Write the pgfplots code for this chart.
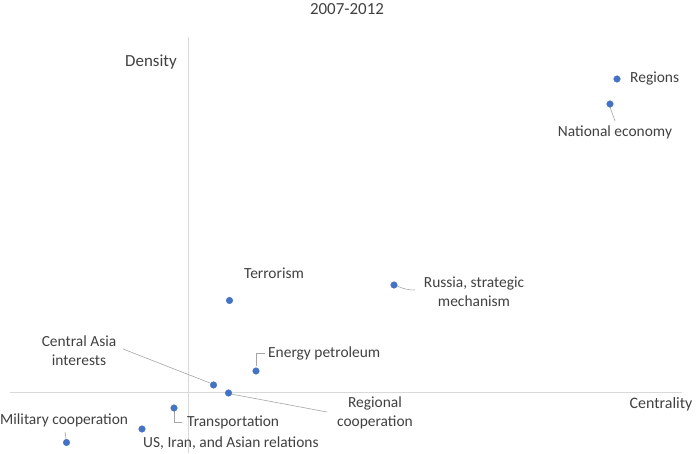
\documentclass[border=0pt]{standalone}
\usepackage{pgfplots}
\pgfplotsset{compat=1.18}
\usepackage{fontspec}
\setmainfont{Carlito}
\definecolor{dotblue}{HTML}{4472C4}
\definecolor{txt}{HTML}{404040}
\definecolor{axgray}{HTML}{D9D9D9}
\definecolor{leader}{HTML}{A6A6A6}
\tikzset{lbl/.style={font=\fontsize{15.5}{19.5}\selectfont, text=txt, inner sep=0pt},
         big/.style={font=\fontsize{17}{20}\selectfont, text=txt, inner sep=0pt}}
\begin{document}
\begin{tikzpicture}
\begin{axis}[
  x=1bp, y=1bp,
  xmin=-178, xmax=494, ymin=-61, ymax=355,
  axis lines=middle,
  axis line style={draw=axgray, line width=0.8bp, -},
  ticks=none,
  clip=false,
]
\addplot[only marks, mark=*, mark size=3.3bp, color=dotblue, mark options={draw=dotblue, fill=dotblue}] coordinates {
  (429,313)   % Regions
  (422,288)   % National economy
  (206,107)   % Russia, strategic mechanism
  (41.5,91.5) % Terrorism
  (68,21)     % Energy petroleum
  (25.5,7)    % Central Asia interests
  (40.5,-1)   % Regional cooperation
  (-14,-16)   % Transportation
  (-46,-37)   % US, Iran, and Asian relations
  (-121.5,-50.5) % Military cooperation
};
% leader lines
\draw[leader, line width=0.6bp] (axis cs:422,285) -- (axis cs:427,271);
\draw[leader, line width=0.6bp] (axis cs:209,106) .. controls (axis cs:216,103) and (axis cs:220,102) .. (axis cs:227,102);
\draw[leader, line width=0.6bp] (axis cs:68,26) -- (axis cs:68,39) -- (axis cs:77,39);
\draw[leader, line width=0.6bp] (axis cs:-65,43) -- (axis cs:22,9);
\draw[leader, line width=0.6bp] (axis cs:43,-2) -- (axis cs:139,-20);
\draw[leader, line width=0.6bp] (axis cs:-14,-19) -- (axis cs:-14,-30) -- (axis cs:-6,-30);
\draw[leader, line width=0.6bp] (axis cs:-122,-47) -- (axis cs:-123,-40);
% labels
\node[big] at (axis cs:159,382.5) {2007-2012};
\node[big] at (axis cs:-37,330) {Density};
\node[lbl, font=\fontsize{16}{20}\selectfont] at (axis cs:473,-12) {Centrality};
\node[lbl, anchor=west] at (axis cs:442,313) {Regions};
\node[lbl] at (axis cs:427,260) {National economy};
\node[lbl, align=center] at (axis cs:286,100) {Russia, strategic\\mechanism};
\node[lbl] at (axis cs:86,119) {Terrorism};
\node[lbl, anchor=west] at (axis cs:80,39) {Energy petroleum};
\node[lbl, align=center] at (axis cs:-109,41.5) {Central Asia\\interests};
\node[lbl, align=center] at (axis cs:187,-21) {Regional\\cooperation};
\node[lbl, anchor=west] at (axis cs:-1,-30) {Transportation};
\node[lbl, anchor=west] at (axis cs:-45,-51) {US, Iran, and Asian relations};
\node[lbl, anchor=west] at (axis cs:-188,-28) {Military cooperation};
% page extent
\path (axis cs:-188,-61) rectangle (axis cs:512,392);
\end{axis}
\end{tikzpicture}
\end{document}
